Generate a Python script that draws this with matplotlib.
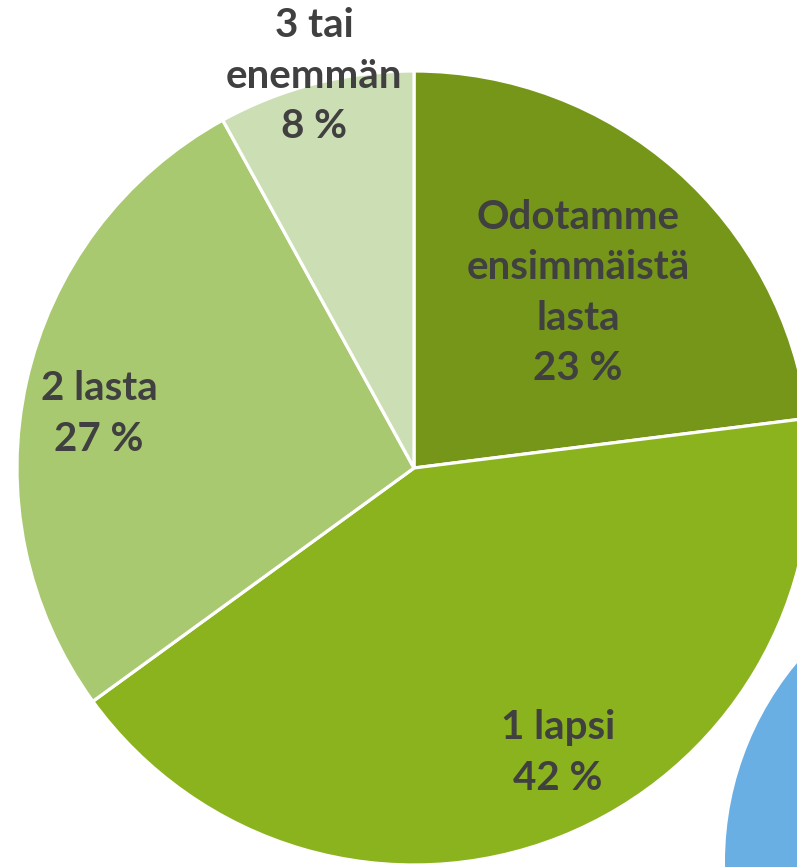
import matplotlib.pyplot as plt
from matplotlib.patches import Circle

# Data
labels = ['Odotamme\nensimmäistä\nlasta', '1 lapsi', '2 lasta', '3 tai\nenemmän']
values = [23, 42, 27, 8]
colors = ['#76961A', '#8BB31E', '#A9C970', '#CCDFB4']

W, H = 797, 867
fig = plt.figure(figsize=(W / 100, H / 100), dpi=100)
ax = fig.add_axes([0, 0, 1, 1])
ax.set_xlim(0, W)
ax.set_ylim(0, H)
ax.set_aspect('equal')
ax.axis('off')

cx, cy, r = 414, H - 468, 397

# partial blue circle in the lower right corner
ax.add_patch(Circle((1036, H - 862), 311, facecolor='#6AAFE4', edgecolor='none', zorder=0))

wedges, _ = ax.pie(values, colors=colors, startangle=90, counterclock=False,
                   center=(cx, cy), radius=r,
                   wedgeprops=dict(edgecolor='white', linewidth=2.3))
ax.set_xlim(0, W)
ax.set_ylim(0, H)

# label placement (pixel positions of text block centres)
label_pos = [(578, 293), (558, 753), (99, 414), (314, 76)]
for lab, v, (x, y) in zip(labels, values, label_pos):
    ax.text(x, H - y, f'{lab}\n{v} %', ha='center', va='center',
            fontsize=29, fontweight='bold', color='#404040',
            family='Lato', linespacing=1.45)

fig.savefig('out.png', dpi=100)
